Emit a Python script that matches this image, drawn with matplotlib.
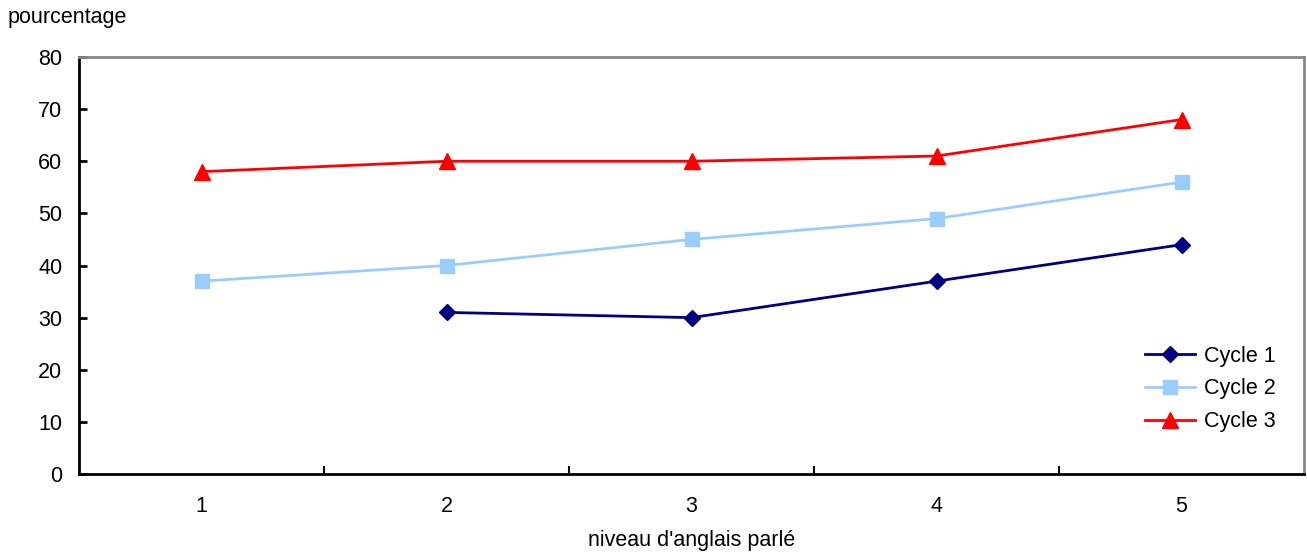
import matplotlib.pyplot as plt
import numpy as np

plt.rcParams['font.family'] = ['Liberation Sans', 'DejaVu Sans']
plt.rcParams['font.size'] = 15.5

niveaux = [1, 2, 3, 4, 5]
cycle1 = [np.nan, 31, 30, 37, 44]
cycle2 = [37, 40, 45, 49, 56]
cycle3 = [58, 60, 60, 61, 68]

fig = plt.figure(figsize=(13.07, 5.55), dpi=100)
ax = fig.add_axes([79/1307, 1-474/555, (1304-79)/1307, (474-57)/555])

ax.plot(niveaux, cycle1, color='#000080', marker='D', markersize=8, lw=2, label='Cycle 1')
ax.plot(niveaux, cycle2, color='#99CCFF', marker='s', markersize=10, lw=2, label='Cycle 2')
ax.plot(niveaux, cycle3, color='#FF0000', marker='^', markersize=11, lw=2, label='Cycle 3')

ax.set_xlim(0.5, 5.5)
ax.set_ylim(0, 80)
ax.set_yticks(np.arange(0, 81, 10))
ax.set_xticks(niveaux)
ax.set_xticks([1.5, 2.5, 3.5, 4.5], minor=True)
ax.tick_params(axis='x', which='major', length=0, pad=16)
ax.tick_params(axis='x', which='minor', length=6, direction='in', width=1.5)
ax.tick_params(axis='y', length=6, direction='in', width=2, pad=12)

for s in ['top', 'right']:
    ax.spines[s].set_color('#888888')
    ax.spines[s].set_linewidth(2)
for s in ['left', 'bottom']:
    ax.spines[s].set_color('black')
    ax.spines[s].set_linewidth(2)

ax.set_xlabel("niveau d'anglais parlé", labelpad=9)
fig.text(8/1307, 1-17/555, 'pourcentage', va='center', ha='left')

ax.legend(loc='center left', bbox_to_anchor=(1126/1307, 1-389/555), bbox_transform=fig.transFigure,
          frameon=False, handlelength=2.3, labelspacing=0.55, handletextpad=0.4)

fig.savefig('out.png', dpi=100)
